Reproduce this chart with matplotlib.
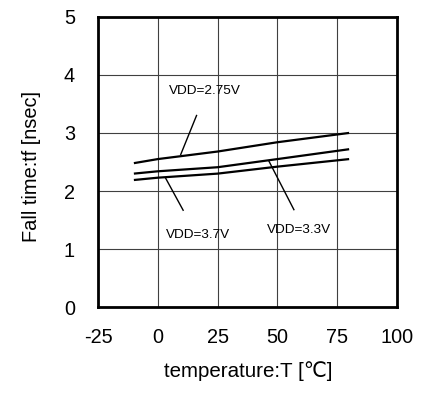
import matplotlib
matplotlib.use("Agg")
import matplotlib.pyplot as plt

plt.rcParams['font.family'] = ['Liberation Sans', 'DejaVu Sans']
plt.rcParams['axes.unicode_minus'] = False

temps = [-10, 0, 25, 50, 80]
tf_275 = [2.48, 2.55, 2.68, 2.84, 3.00]
tf_33 = [2.30, 2.34, 2.41, 2.55, 2.72]
tf_37 = [2.19, 2.23, 2.30, 2.42, 2.55]

xticks = [-25, 0, 25, 50, 75, 100]
yticks = [0, 1, 2, 3, 4, 5]

labels = ["VDD=2.75V", "VDD=3.7V", "VDD=3.3V"]
label_pos = [(4.6, 3.72), (3.3, 1.25), (45.5, 1.33)]
leader_start = [(16.2, 3.30), (3.3, 2.22), (46.4, 2.52)]
leader_end = [(9.6, 2.63), (10.6, 1.67), (56.9, 1.68)]

fig = plt.figure(figsize=(4.27, 3.99), dpi=100)
ax = fig.add_axes([0.2295, 0.2298, 0.7002, 0.7284])

for ys in (tf_275, tf_33, tf_37):
    ax.plot(temps, ys, color='black', lw=1.6, solid_capstyle='butt')

for lab, (tx, ty), (sx, sy), (ex, ey) in zip(labels, label_pos, leader_start, leader_end):
    ax.plot([sx, ex], [sy, ey], color='black', lw=1.0)
    ax.text(tx, ty, lab, fontsize=9.7, ha='left', va='center')

ax.set_xlim(-25, 100)
ax.set_ylim(0, 5)
ax.set_xticks(xticks)
ax.set_yticks(yticks)
ax.grid(True, color='#404040', lw=0.8)
ax.tick_params(axis='x', length=0, pad=15, labelsize=14.3)
ax.tick_params(axis='y', length=0, pad=16.5, labelsize=14.3)
for s in ax.spines.values():
    s.set_linewidth(2.0)
    s.set_color('black')

fig.text(248 / 427, 1 - 371 / 399, 'temperature:T [℃]', fontsize=14.8,
         ha='center', va='center')
fig.text(31.7 / 427, 1 - 166.7 / 399, 'Fall time:tf [nsec]', fontsize=14.4,
         ha='center', va='center', rotation=90)

fig.savefig('out.png', dpi=100)
